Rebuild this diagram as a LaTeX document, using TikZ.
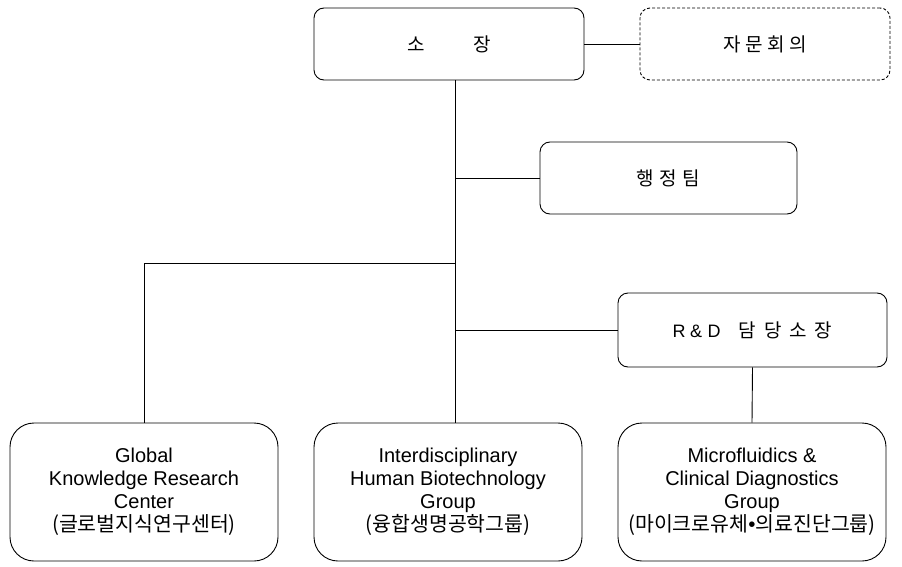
\documentclass[tikz,border=0pt]{standalone}
\usepackage{fontspec}
\setmainfont{Liberation Sans}
\newfontfamily\kr{Noto Sans CJK KR}
\begin{document}
\begin{tikzpicture}[x=1pt,y=-1pt,
  box/.style={draw, line width=0.9pt, rounded corners=10pt, align=center, inner sep=0pt},
  bigbox/.style={draw, line width=0.9pt, rounded corners=24pt, align=center, inner sep=0pt,
    minimum width=268pt, minimum height=138pt, font=\fontsize{20}{23}\selectfont},
  conn/.style={line width=0.9pt},
  toptext/.style={font=\fontsize{19}{22}\selectfont},
  fine dash/.style={dash pattern=on 3pt off 2pt}]
\fill[white] (0,0) rectangle (902,567);
\useasboundingbox (0,0) rectangle (902,567);

\node[box, toptext, minimum width=270pt, minimum height=72pt] (so) at (449,44)
  {\kr 소\hspace{49pt}장};
\node[box, toptext, fine dash, minimum width=250pt, minimum height=72pt] (ja) at (765,44)
  {\kr 자\hspace{4.5pt}문\hspace{4.5pt}회\hspace{4.5pt}의};
\node[box, toptext, minimum width=257pt, minimum height=72pt] (hj) at (668.5,178)
  {\kr 행\hspace{5.5pt}정\hspace{5.5pt}팀};
\node[box, toptext, minimum width=269pt, minimum height=74pt] (rd) at (752.5,330)
  {{\fontsize{18}{20}\selectfont R\hspace{4.5pt}\&\hspace{5.5pt}D}\hspace{18pt}{\kr 담\hspace{8pt}당\hspace{8pt}소\hspace{8pt}장}};

\node[bigbox] (b1) at (144,492)
  {Global\\Knowledge Research\\Center\\{\kr\fontsize{20.5}{23}\selectfont (글로벌지식연구센터)}};
\node[bigbox] (b2) at (448,492)
  {Interdisciplinary\\Human Biotechnology\\Group\\{\kr\fontsize{20.5}{23}\selectfont (융합생명공학그룹)}};
\node[bigbox] (b3) at (752,492)
  {Microfluidics \&\\Clinical Diagnostics\\Group\\{\kr\fontsize{20.5}{23}\selectfont (마이크로유체{\rmfamily\textbullet}의료진단그룹)}};

\coordinate (tr) at (455,0);
\coordinate (jn) at (455,263);

\draw[conn] (so.east) -- (ja.west);
\draw[conn] (so.south -| tr) -- (b2.north -| tr);
\draw[conn] (hj.west) -- (hj.west -| tr);
\draw[conn] (rd.west) -- (rd.west -| tr);
\draw[conn] (jn) -| (b1.north);
\draw[conn] (rd.south) -- (b3.north);
\end{tikzpicture}
\end{document}
